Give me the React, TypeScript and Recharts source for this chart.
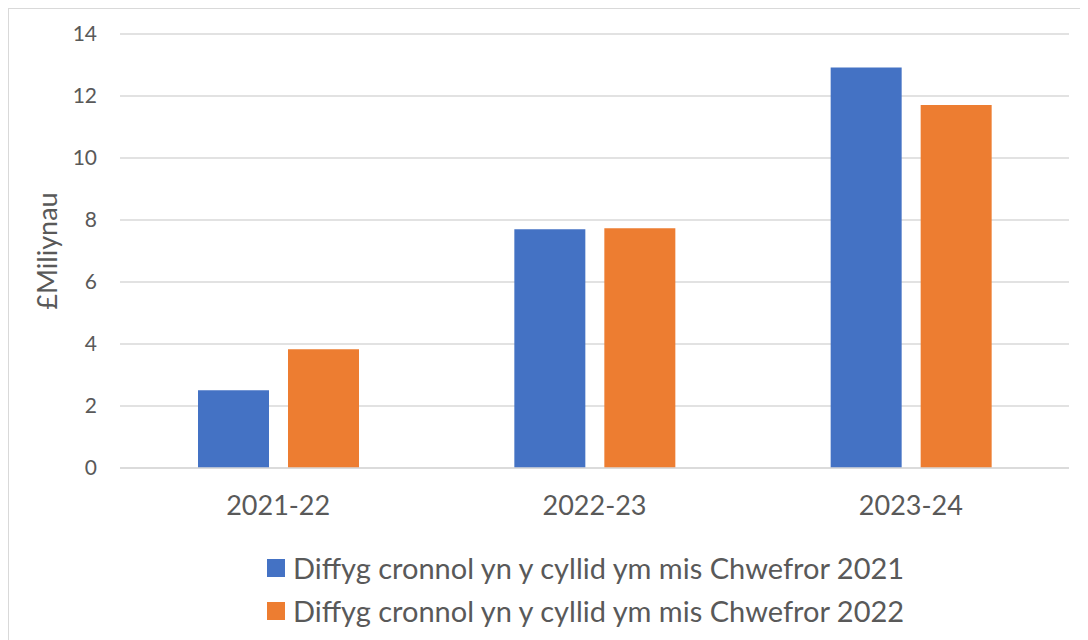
import React from 'react';
import { BarChart, Bar, XAxis, YAxis, CartesianGrid, Legend } from 'recharts';

const categories = ['2021-22', '2022-23', '2023-24'];
const feb2021 = [2.51, 7.7, 12.92];
const feb2022 = [3.83, 7.73, 11.71];
const yTicks = [0, 2, 4, 6, 8, 10, 12, 14];

const SERIES = [
    { key: 'feb2021', name: 'Diffyg cronnol yn y cyllid ym mis Chwefror 2021', color: '#4472C4' },
    { key: 'feb2022', name: 'Diffyg cronnol yn y cyllid ym mis Chwefror 2022', color: '#ED7D31' },
];

const data = categories.map((name, i) => ({ name, feb2021: feb2021[i], feb2022: feb2022[i] }));

const FONT = 'Lato, "Open Sans", sans-serif';
const TEXT = '#595959';

const LegendRows = () => (
    <div style={{ height: 110, paddingTop: 15, paddingLeft: 258, boxSizing: 'border-box', fontFamily: FONT }}>
        {SERIES.map((s) => (
            <div key={s.key} style={{ display: 'flex', alignItems: 'center', height: 43 }}>
                <span style={{ width: 18, height: 18, background: s.color, marginRight: 8, display: 'inline-block' }} />
                <span style={{ fontSize: 29, color: TEXT, whiteSpace: 'nowrap' }}>{s.name}</span>
            </div>
        ))}
    </div>
);

const App = () => {
    return (
        <div style={{ width: 1080, height: 632, border: '1px solid #d9d9d9', background: '#fff' }}>
            <BarChart
                width={1080}
                height={632}
                data={data}
                margin={{ top: 25, right: 20, left: 0, bottom: 0 }}
                barCategoryGap={78}
                barGap={19}
                style={{ fontFamily: FONT }}
            >
                <CartesianGrid vertical={false} stroke="#d9d9d9" strokeWidth={1.5} />
                <XAxis
                    dataKey="name"
                    height={63}
                    tickLine={false}
                    axisLine={{ stroke: '#d9d9d9', strokeWidth: 1.5 }}
                    tickMargin={22}
                    tick={{ fill: TEXT, fontSize: 27 }}
                />
                <YAxis
                    width={111}
                    domain={[0, 14]}
                    ticks={yTicks}
                    tickLine={false}
                    axisLine={false}
                    tickMargin={17}
                    tick={{ fill: TEXT, fontSize: 21 }}
                    label={{
                        value: '£Miliynau',
                        angle: -90,
                        position: 'insideLeft',
                        offset: 38,
                        style: { fill: TEXT, fontSize: 27, textAnchor: 'middle' },
                    }}
                />
                <Legend verticalAlign="bottom" content={<LegendRows />} wrapperStyle={{ left: 0, width: 1080 }} />
                {SERIES.map((s) => (
                    <Bar key={s.key} dataKey={s.key} name={s.name} fill={s.color} isAnimationActive={false} />
                ))}
            </BarChart>
        </div>
    );
};

export default App;
